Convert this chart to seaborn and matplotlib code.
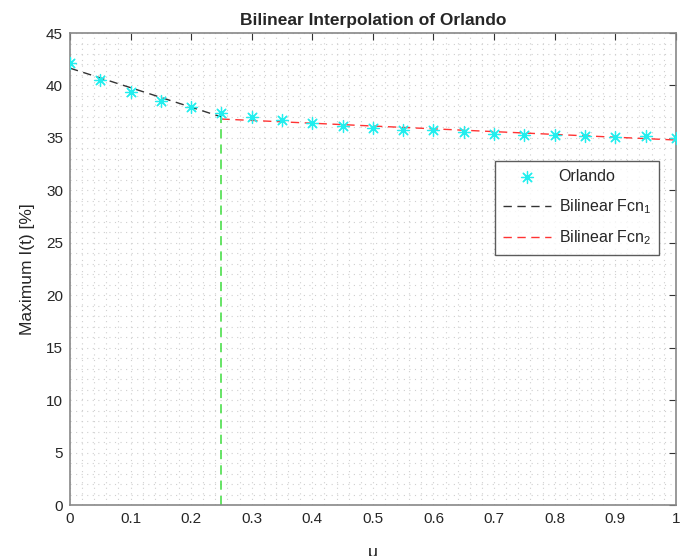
import numpy as np
import pandas as pd
import matplotlib
matplotlib.use("Agg")
import matplotlib.pyplot as plt
import seaborn as sns
from matplotlib.ticker import MultipleLocator

sns.set_style("white")
plt.rcParams['font.family'] = ['Liberation Sans', 'DejaVu Sans']
plt.rcParams['mathtext.fontset'] = 'custom'
plt.rcParams['mathtext.rm'] = 'Liberation Sans'
plt.rcParams['mathtext.it'] = 'Liberation Sans'

# Data
u_vals = [0.0, 0.05, 0.1, 0.15, 0.2, 0.25, 0.3, 0.35, 0.4, 0.45, 0.5,
          0.55, 0.6, 0.65, 0.7, 0.75, 0.8, 0.85, 0.9, 0.95, 1.0]
orlando = [42.1, 40.5, 39.4, 38.5, 37.9, 37.4, 37.0, 36.7, 36.4, 36.1, 35.9,
           35.8, 35.75, 35.6, 35.4, 35.3, 35.25, 35.15, 35.1, 35.15, 35.0]
fcn1_u = [0.0, 0.25]
fcn1_y = [41.65, 37.0]
fcn2_u = [0.25, 1.0]
fcn2_y = [36.8, 34.8]
break_u = [0.25, 0.25]
break_y = [0.0, 37.0]

fig = plt.figure(figsize=(6.88, 5.56), dpi=100)
ax = fig.add_axes([0.1017, 0.0917, 0.8806, 0.8489])

df_pts = pd.DataFrame({"u": u_vals, "y": orlando})
sns.scatterplot(data=df_pts, x="u", y="y", ax=ax, marker=(8, 2, 0), s=75,
                color="#22eeee", linewidth=0.9, edgecolor="#22eeee",
                label="Orlando", zorder=3)
sns.lineplot(x=fcn1_u, y=fcn1_y, ax=ax, color="#333333", linewidth=1.0,
             linestyle=(0, (6, 4)), label="Bilinear Fcn$_1$", zorder=2,
             estimator=None, sort=False)
sns.lineplot(x=fcn2_u, y=fcn2_y, ax=ax, color="#ff3333", linewidth=1.0,
             linestyle=(0, (6, 4)), label="Bilinear Fcn$_2$", zorder=2,
             estimator=None, sort=False)
sns.lineplot(x=break_u, y=break_y, ax=ax, color="#3ddd3d", linewidth=1.1,
             linestyle=(0, (6, 4)), legend=False, zorder=2,
             estimator=None, sort=False)

ax.set_xlim(0, 1)
ax.set_ylim(0, 45)
ax.xaxis.set_minor_locator(MultipleLocator(0.02))
ax.yaxis.set_major_locator(MultipleLocator(5))
ax.yaxis.set_minor_locator(MultipleLocator(1))
ax.set_xticks(np.round(np.arange(0, 1.01, 0.1), 1))
ax.set_xticklabels(["0", "0.1", "0.2", "0.3", "0.4", "0.5", "0.6", "0.7", "0.8", "0.9", "1"])
ax.grid(which="both", color="#cfcfcf", linestyle=(0, (1, 4)), linewidth=0.8)
ax.set_axisbelow(True)
ax.tick_params(which="major", direction="in", length=5, width=0.8, color="#333333",
               labelsize=11, labelcolor="#262626", top=True, right=True, pad=5)
ax.tick_params(which="minor", length=0)
for sp in ax.spines.values():
    sp.set_color("#888888")
    sp.set_linewidth(1.2)

ax.set_title("Bilinear Interpolation of Orlando", fontsize=12.5, fontweight="bold", pad=6)
ax.set_ylabel("Maximum I(t) [%]", fontsize=12.5, color="#262626", labelpad=8)
ax.set_xlabel("μ", fontsize=12.5, color="#262626", labelpad=14)

leg = ax.legend(loc="upper left", bbox_to_anchor=(0.688, 0.745), fontsize=11.5,
                frameon=True, fancybox=False, edgecolor="#333333",
                handlelength=3.0, handletextpad=0.5, borderpad=0.5,
                labelspacing=0.8)
leg.get_frame().set_linewidth(1.0)

fig.savefig("out.png", dpi=100)
